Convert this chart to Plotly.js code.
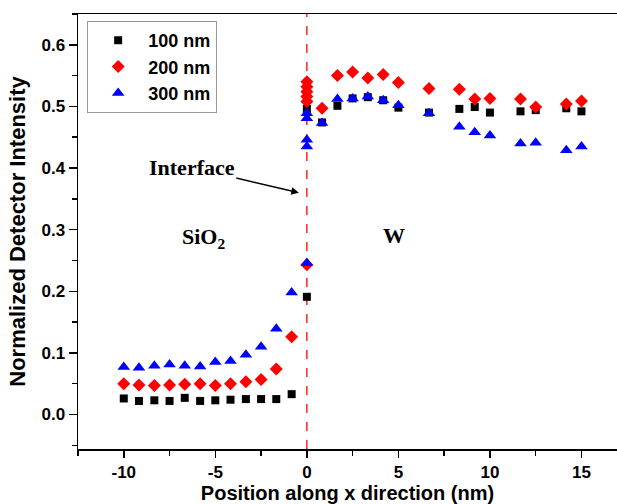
<!DOCTYPE html>
<html>
<head>
<meta charset="utf-8">
<script src="https://cdn.plot.ly/plotly-3.0.1.min.js"></script>
<style>html,body{margin:0;padding:0;background:#fff;}#chart{width:617px;height:504px;}</style>
</head>
<body>
<div id="chart"></div>
<script>
// Data
const x100 = [-10, -9.17, -8.33, -7.5, -6.67, -5.83, -5, -4.17, -3.33, -2.5, -1.67, -0.83, 0, 0,
  0.83, 1.67, 2.5, 3.33, 4.17, 5, 6.67, 8.33, 9.17, 10, 11.67, 12.5, 14.17, 15];
const y100 = [0.026, 0.022, 0.023, 0.022, 0.027, 0.022, 0.023, 0.024, 0.025, 0.025, 0.025, 0.033, 0.191, 0.496,
  0.474, 0.501, 0.513, 0.515, 0.510, 0.498, 0.490, 0.496, 0.499, 0.490, 0.492, 0.494, 0.497, 0.492];

const x200 = [-10, -9.17, -8.33, -7.5, -6.67, -5.83, -5, -4.17, -3.33, -2.5, -1.67, -0.83, 0, 0, 0, 0, 0, 0,
  0.83, 1.67, 2.5, 3.33, 4.17, 5, 6.67, 8.33, 9.17, 10, 11.67, 12.5, 14.17, 15];
const y200 = [0.050, 0.048, 0.047, 0.048, 0.049, 0.050, 0.047, 0.050, 0.053, 0.057, 0.074, 0.126, 0.243, 0.508, 0.516, 0.524, 0.532, 0.540,
  0.497, 0.550, 0.556, 0.546, 0.552, 0.539, 0.529, 0.528, 0.512, 0.513, 0.512, 0.499, 0.504, 0.509];

const x300 = [-10, -9.17, -8.33, -7.5, -6.67, -5.83, -5, -4.17, -3.33, -2.5, -1.67, -0.83, 0, 0, 0, 0, 0,
  0.83, 1.67, 2.5, 3.33, 4.17, 5, 6.67, 8.33, 9.17, 10, 11.67, 12.5, 14.17, 15];
const y300 = [0.077, 0.076, 0.079, 0.081, 0.079, 0.078, 0.085, 0.087, 0.097, 0.110, 0.139, 0.198, 0.246, 0.435, 0.446, 0.481, 0.489,
  0.473, 0.512, 0.513, 0.516, 0.510, 0.502, 0.489, 0.467, 0.458, 0.453, 0.440, 0.441, 0.429, 0.435];

const seriesNames = ["100 nm", "200 nm", "300 nm"];
const xTickVals = [-10, -5, 0, 5, 10, 15];
const yTickVals = [0.0, 0.1, 0.2, 0.3, 0.4, 0.5, 0.6];

const FONT = "Liberation Sans, Arial, sans-serif";
const SERIF = "Liberation Serif, Times New Roman, serif";

const traces = [
  {x: x100, y: y100, name: seriesNames[0], type: "scatter", mode: "markers",
   marker: {symbol: "square", size: 8, color: "#000000"}},
  {x: x200, y: y200, name: seriesNames[1], type: "scatter", mode: "markers",
   marker: {symbol: "diamond", size: 10, color: "#ff0000"}},
  {x: x300, y: y300, name: seriesNames[2], type: "scatter", mode: "markers",
   marker: {symbol: "triangle-up", size: 11, color: "#0000ff"}}
];

const layout = {
  width: 617, height: 504,
  margin: {l: 78, r: 0, t: 14, b: 55},
  paper_bgcolor: "#ffffff", plot_bgcolor: "#ffffff",
  font: {family: FONT, color: "#000", size: 17, weight: "bold"},
  showlegend: true,
  legend: {x: 0.017, y: 0.984, xanchor: "left", yanchor: "top",
    bgcolor: "#ffffff", bordercolor: "#999999", borderwidth: 1,
    font: {family: FONT, size: 18, color: "#000", weight: "bold"},
    itemwidth: 50, tracegroupgap: 0},
  xaxis: {
    range: [-12.5, 16.94], showgrid: false, zeroline: false,
    tickvals: xTickVals, ticktext: xTickVals.map(String),
    ticks: "outside", ticklen: 7, tickwidth: 1.5, tickcolor: "#000",
    minor: {dtick: 2.5, tick0: 0, ticks: "outside", ticklen: 5, tickwidth: 1.5, tickcolor: "#000"},
    showline: true, linecolor: "#000", linewidth: 1.5, mirror: true,
    tickfont: {family: FONT, size: 17, weight: "bold"},
    title: {text: "Position along x direction (nm)", font: {family: FONT, size: 20, weight: "bold"}, standoff: 8}
  },
  yaxis: {
    range: [-0.056, 0.65], showgrid: false, zeroline: false,
    tickvals: yTickVals, ticktext: yTickVals.map(v => v.toFixed(1)),
    ticks: "outside", ticklen: 8, tickwidth: 1.5, tickcolor: "#000",
    minor: {dtick: 0.05, tick0: 0, ticks: "outside", ticklen: 5, tickwidth: 1.5, tickcolor: "#000"},
    showline: true, linecolor: "#000", linewidth: 1.5, mirror: false,
    tickfont: {family: FONT, size: 17, weight: "bold"},
    title: {text: "Normalized Detector Intensity", font: {family: FONT, size: 22, weight: "bold"}, standoff: 10}
  },
  shapes: [
    {type: "line", xref: "x", yref: "paper", x0: 0, x1: 0, y0: 0, y1: 1,
     line: {color: "#ff0000", width: 1.3, dash: "dash"}, layer: "below"}
  ],
  annotations: [
    {x: -0.44, y: 0.36, xref: "x", yref: "y", text: "Interface", showarrow: true,
     ax: -107, ay: -25, arrowhead: 2, arrowsize: 1, arrowwidth: 1.5, arrowcolor: "#000",
     font: {family: SERIF, size: 22, color: "#000", weight: "bold"}},
    {x: -5.63, y: 0.2865, xref: "x", yref: "y", text: "SiO<sub>2</sub>", showarrow: false,
     font: {family: SERIF, size: 22, color: "#000", weight: "bold"}},
    {x: 4.75, y: 0.291, xref: "x", yref: "y", text: "W", showarrow: false,
     font: {family: SERIF, size: 22, color: "#000", weight: "bold"}}
  ]
};

Plotly.newPlot("chart", traces, layout, {displayModeBar: false, staticPlot: true});
</script>
</body>
</html>
